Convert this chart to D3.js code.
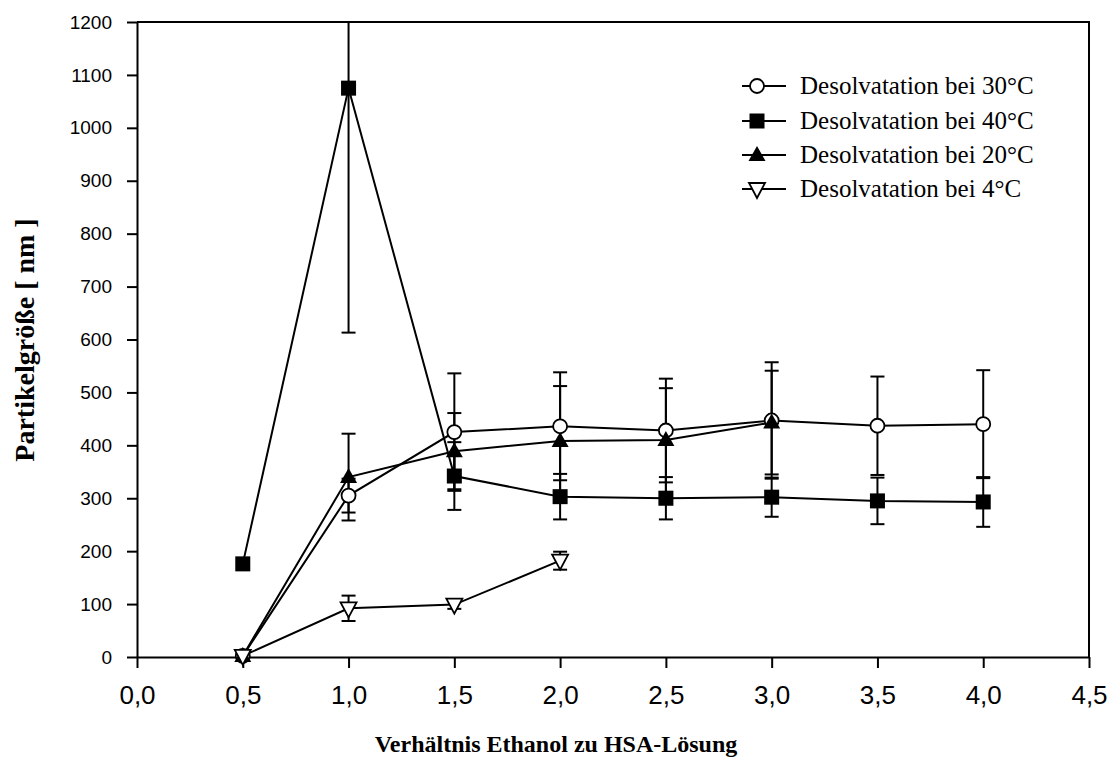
<!DOCTYPE html>
<html>
<head>
<meta charset="utf-8">
<script src="https://cdn.jsdelivr.net/npm/d3@7"></script>
<style>
  body { margin: 0; background: #fff; }
  svg { display: block; }
</style>
</head>
<body>
<svg id="chart" width="1113" height="758"></svg>
<script>
// Ethanol/HSA ratio on the x axis
const ratios = [0.5, 1.0, 1.5, 2.0, 2.5, 3.0, 3.5, 4.0];

// Mean particle size [nm] and standard deviation for each desolvation temperature
const size30 = [2, 305, 425, 436, 428, 447, 437, 440];
const err30  = [0, 32, 111, 102, 98, 110, 93, 102];

const size40 = [176, 1075, 342, 303, 300, 302, 295, 293];
const err40  = [0, 462, 64, 43, 40, 37, 44, 47];

const size20 = [2, 340, 389, 408, 410, 443];
const err20  = [0, 82, 72, 104, 98, 98];

const size4  = [2, 92, 99, 182];
const err4   = [0, 24, 8, 17];

const legendLabels = [
  "Desolvatation bei 30°C",
  "Desolvatation bei 40°C",
  "Desolvatation bei 20°C",
  "Desolvatation bei 4°C"
];

const xTicks = [0, 0.5, 1.0, 1.5, 2.0, 2.5, 3.0, 3.5, 4.0, 4.5];
const yTicks = [0, 100, 200, 300, 400, 500, 600, 700, 800, 900, 1000, 1100, 1200];

const svg = d3.select("#chart");
const plotLeft = 137, plotRight = 1089, plotTop = 22, plotBottom = 657;

const x = d3.scaleLinear().domain([0, 4.5]).range([plotLeft, plotRight]);
const y = d3.scaleLinear().domain([0, 1200]).range([plotBottom, plotTop]);

const fmt = d => d3.format(".1f")(d).replace(".", ",");

// clip region for data that runs past the top of the frame
svg.append("defs").append("clipPath").attr("id", "plotClip")
  .append("rect").attr("x", plotLeft - 20).attr("y", plotTop)
  .attr("width", plotRight - plotLeft + 40).attr("height", plotBottom - plotTop + 20);

// axes
const xAxis = svg.append("g").attr("transform", `translate(0,${plotBottom})`)
  .call(d3.axisBottom(x).tickValues(xTicks).tickFormat(fmt).tickSize(11).tickSizeOuter(0));
const yAxis = svg.append("g").attr("transform", `translate(${plotLeft},0)`)
  .call(d3.axisLeft(y).tickValues(yTicks).tickFormat(d3.format("d")).tickSize(10).tickSizeOuter(0));

[xAxis, yAxis].forEach(g => {
  g.selectAll("path.domain").attr("stroke", "#000").attr("stroke-width", 2);
  g.selectAll(".tick line").attr("stroke", "#000").attr("stroke-width", 2);
  g.selectAll(".tick text").attr("fill", "#000")
    .style("font-family", "'Liberation Sans', Arial, sans-serif");
});
xAxis.selectAll(".tick text").attr("dy", 0).attr("y", 47).style("font-size", "26px");
yAxis.selectAll(".tick text").attr("x", -25).style("font-size", "19px");

// frame: top and right edges
svg.append("path")
  .attr("d", `M${plotLeft},${plotTop}H${plotRight}V${plotBottom}`)
  .attr("fill", "none").attr("stroke", "#000").attr("stroke-width", 2);

const plot = svg.append("g").attr("clip-path", "url(#plotClip)");

const series = [
  { vals: size30, errs: err30, marker: "circle" },
  { vals: size40, errs: err40, marker: "square" },
  { vals: size20, errs: err20, marker: "triangle" },
  { vals: size4,  errs: err4,  marker: "down" }
];

const capW = 7;

// error bars
series.forEach(s => {
  s.vals.forEach((v, i) => {
    const e = s.errs[i];
    if (!e) return;
    const cx = x(ratios[i]);
    const g = plot.append("g").attr("stroke", "#000").attr("stroke-width", 2);
    g.append("line").attr("x1", cx).attr("x2", cx).attr("y1", y(v - e)).attr("y2", y(v + e));
    g.append("line").attr("x1", cx - capW).attr("x2", cx + capW).attr("y1", y(v - e)).attr("y2", y(v - e));
    g.append("line").attr("x1", cx - capW).attr("x2", cx + capW).attr("y1", y(v + e)).attr("y2", y(v + e));
  });
});

// lines
const line = d3.line().x(d => x(d[0])).y(d => y(d[1]));
series.forEach(s => {
  plot.append("path")
    .datum(s.vals.map((v, i) => [ratios[i], v]))
    .attr("d", line).attr("fill", "none").attr("stroke", "#000").attr("stroke-width", 2);
});

// marker drawing
function drawMarker(g, type, cx, cy) {
  if (type === "circle") {
    g.append("circle").attr("cx", cx).attr("cy", cy).attr("r", 7)
      .attr("fill", "#fff").attr("stroke", "#000").attr("stroke-width", 1.8);
  } else if (type === "square") {
    g.append("rect").attr("x", cx - 7.5).attr("y", cy - 7.5).attr("width", 15).attr("height", 15)
      .attr("fill", "#000");
  } else if (type === "triangle") {
    g.append("path").attr("d", `M${cx},${cy - 9}L${cx + 8.5},${cy + 6}L${cx - 8.5},${cy + 6}Z`)
      .attr("fill", "#000");
  } else if (type === "down") {
    g.append("path").attr("d", `M${cx - 8},${cy - 6}L${cx + 8},${cy - 6}L${cx},${cy + 9}Z`)
      .attr("fill", "#fff").attr("stroke", "#000").attr("stroke-width", 1.8);
  }
}

series.forEach(s => {
  const g = plot.append("g");
  s.vals.forEach((v, i) => drawMarker(g, s.marker, x(ratios[i]), y(v)));
});

// legend
const legend = svg.append("g");
const legY = [86, 121, 155, 189];
series.forEach((s, i) => {
  const ly = legY[i];
  legend.append("line").attr("x1", 742).attr("x2", 786).attr("y1", ly).attr("y2", ly)
    .attr("stroke", "#000").attr("stroke-width", 2);
  drawMarker(legend, s.marker, 757, ly);
  legend.append("text").attr("x", 800).attr("y", ly).attr("dy", "0.33em")
    .style("font-family", "'Liberation Serif', 'Times New Roman', serif").style("font-size", "25px")
    .text(legendLabels[i]);
});

// axis titles
svg.append("text").attr("x", 556).attr("y", 752).attr("text-anchor", "middle")
  .style("font-family", "'Liberation Serif', 'Times New Roman', serif").style("font-size", "24px")
  .style("font-weight", "bold").text("Verhältnis Ethanol zu HSA-Lösung");

svg.append("text").attr("transform", "translate(34,340) rotate(-90)").attr("text-anchor", "middle")
  .style("font-family", "'Liberation Serif', 'Times New Roman', serif").style("font-size", "28px")
  .style("font-weight", "bold").text("Partikelgröße [ nm ]");
</script>
</body>
</html>
